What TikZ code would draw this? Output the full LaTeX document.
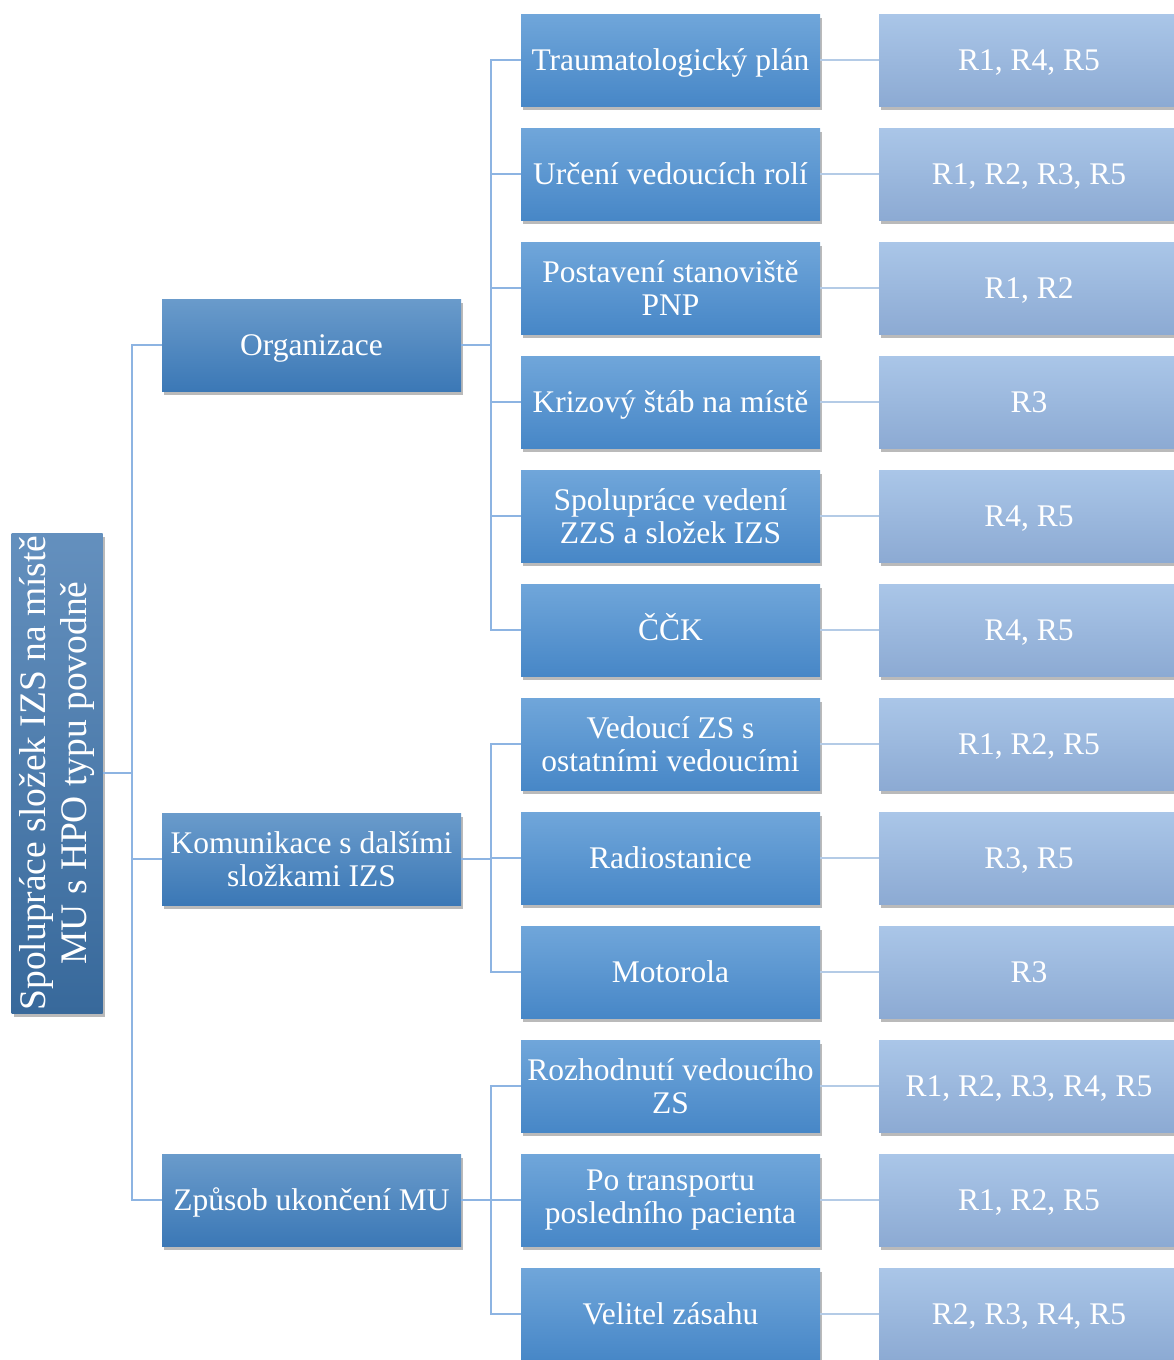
\documentclass[tikz,border=0pt]{standalone}
\usepackage{fontspec}
\setmainfont{Liberation Serif}
\usetikzlibrary{shadows}
\definecolor{rootT}{HTML}{6490BE}
\definecolor{rootB}{HTML}{38699B}
\definecolor{lvAT}{HTML}{6A9BCB}
\definecolor{lvAB}{HTML}{3B78B6}
\definecolor{lvBT}{HTML}{70A6DA}
\definecolor{lvBB}{HTML}{4787C7}
\definecolor{lvCT}{HTML}{AAC6E8}
\definecolor{lvCB}{HTML}{8CAAD3}
\definecolor{lineA}{HTML}{8DB4E2}
\definecolor{lineB}{HTML}{B4CBE6}
\tikzset{
  boxbase/.style={rectangle, inner sep=2pt, text=white, align=center,
    font=\fontsize{31.5}{33}\selectfont,
    drop shadow={shadow xshift=2pt, shadow yshift=-4pt, opacity=0.45, fill=black!60}},
  single/.style={text height=28.4pt, text depth=8.2pt},
  rootbox/.style={boxbase, minimum width=480pt, minimum height=91pt, rotate=90,
    font=\fontsize{37.5}{40}\selectfont,
    top color=rootT, bottom color=rootB},
  lvone/.style={boxbase, minimum width=299pt, minimum height=92pt, top color=lvAT, bottom color=lvAB},
  lvtwo/.style={boxbase, minimum width=299pt, minimum height=92pt, top color=lvBT, bottom color=lvBB},
  lvthree/.style={boxbase, single, minimum width=300pt, minimum height=92pt, top color=lvCT, bottom color=lvCB},
  linkA/.style={draw=lineA, line width=2.2pt},
  linkB/.style={draw=lineB, line width=2.2pt}
}
\begin{document}
\begin{tikzpicture}[x=1pt,y=-1pt]
\useasboundingbox (0,0) rectangle (1174,1360);
% root
\node[rootbox] (root) at (57,773) {Spolupráce složek IZS na místě\\MU s HPO typu povodně};
% level 1
\node[lvone,single] (org) at (311.5,345) {Organizace};
\node[lvone] (kom) at (311.5,859) {Komunikace s dalšími\\složkami IZS};
\node[lvone,single] (zpu) at (311.5,1200) {Způsob ukončení MU};
% level 2
\node[lvtwo,single] (b1) at (670.5,60) {Traumatologický plán};
\node[lvtwo,single] (b2) at (670.5,174) {Určení vedoucích rolí};
\node[lvtwo] (b3) at (670.5,288) {Postavení stanoviště\\PNP};
\node[lvtwo,single] (b4) at (670.5,402) {Krizový štáb na místě};
\node[lvtwo] (b5) at (670.5,516) {Spolupráce vedení\\ZZS a složek IZS};
\node[lvtwo,single] (b6) at (670.5,630) {ČČK};
\node[lvtwo] (b7) at (670.5,744) {Vedoucí ZS s\\ostatními vedoucími};
\node[lvtwo,single] (b8) at (670.5,858) {Radiostanice};
\node[lvtwo,single] (b9) at (670.5,972) {Motorola};
\node[lvtwo] (b10) at (670.5,1086) {Rozhodnutí vedoucího\\ZS};
\node[lvtwo] (b11) at (670.5,1200) {Po transportu\\posledního pacienta};
\node[lvtwo,single] (b12) at (670.5,1314) {Velitel zásahu};
% level 3
\node[lvthree] (c1) at (1029,60) {R1, R4, R5};
\node[lvthree] (c2) at (1029,174) {R1, R2, R3, R5};
\node[lvthree] (c3) at (1029,288) {R1, R2};
\node[lvthree] (c4) at (1029,402) {R3};
\node[lvthree] (c5) at (1029,516) {R4, R5};
\node[lvthree] (c6) at (1029,630) {R4, R5};
\node[lvthree] (c7) at (1029,744) {R1, R2, R5};
\node[lvthree] (c8) at (1029,858) {R3, R5};
\node[lvthree] (c9) at (1029,972) {R3};
\node[lvthree] (c10) at (1029,1086) {R1, R2, R3, R4, R5};
\node[lvthree] (c11) at (1029,1200) {R1, R2, R5};
\node[lvthree] (c12) at (1029,1314) {R2, R3, R4, R5};
% connectors
\coordinate (busR) at (132,773);
\draw[linkA] (root.south) -- (busR);
\foreach \n in {org,kom,zpu} \draw[linkA] (busR) |- (\n.west);
\coordinate (busO) at (491,345);
\draw[linkA] (org.east) -- (busO);
\foreach \n in {b1,b2,b3,b4,b5,b6} \draw[linkA] (busO) |- (\n.west);
\coordinate (busK) at (491,859);
\draw[linkA] (kom.east) -- (busK);
\foreach \n in {b7,b8,b9} \draw[linkA] (busK) |- (\n.west);
\coordinate (busZ) at (491,1200);
\draw[linkA] (zpu.east) -- (busZ);
\foreach \n in {b10,b11,b12} \draw[linkA] (busZ) |- (\n.west);
\foreach \i in {1,...,12} \draw[linkB] (b\i.east) -- (c\i.west);
\end{tikzpicture}
\end{document}
